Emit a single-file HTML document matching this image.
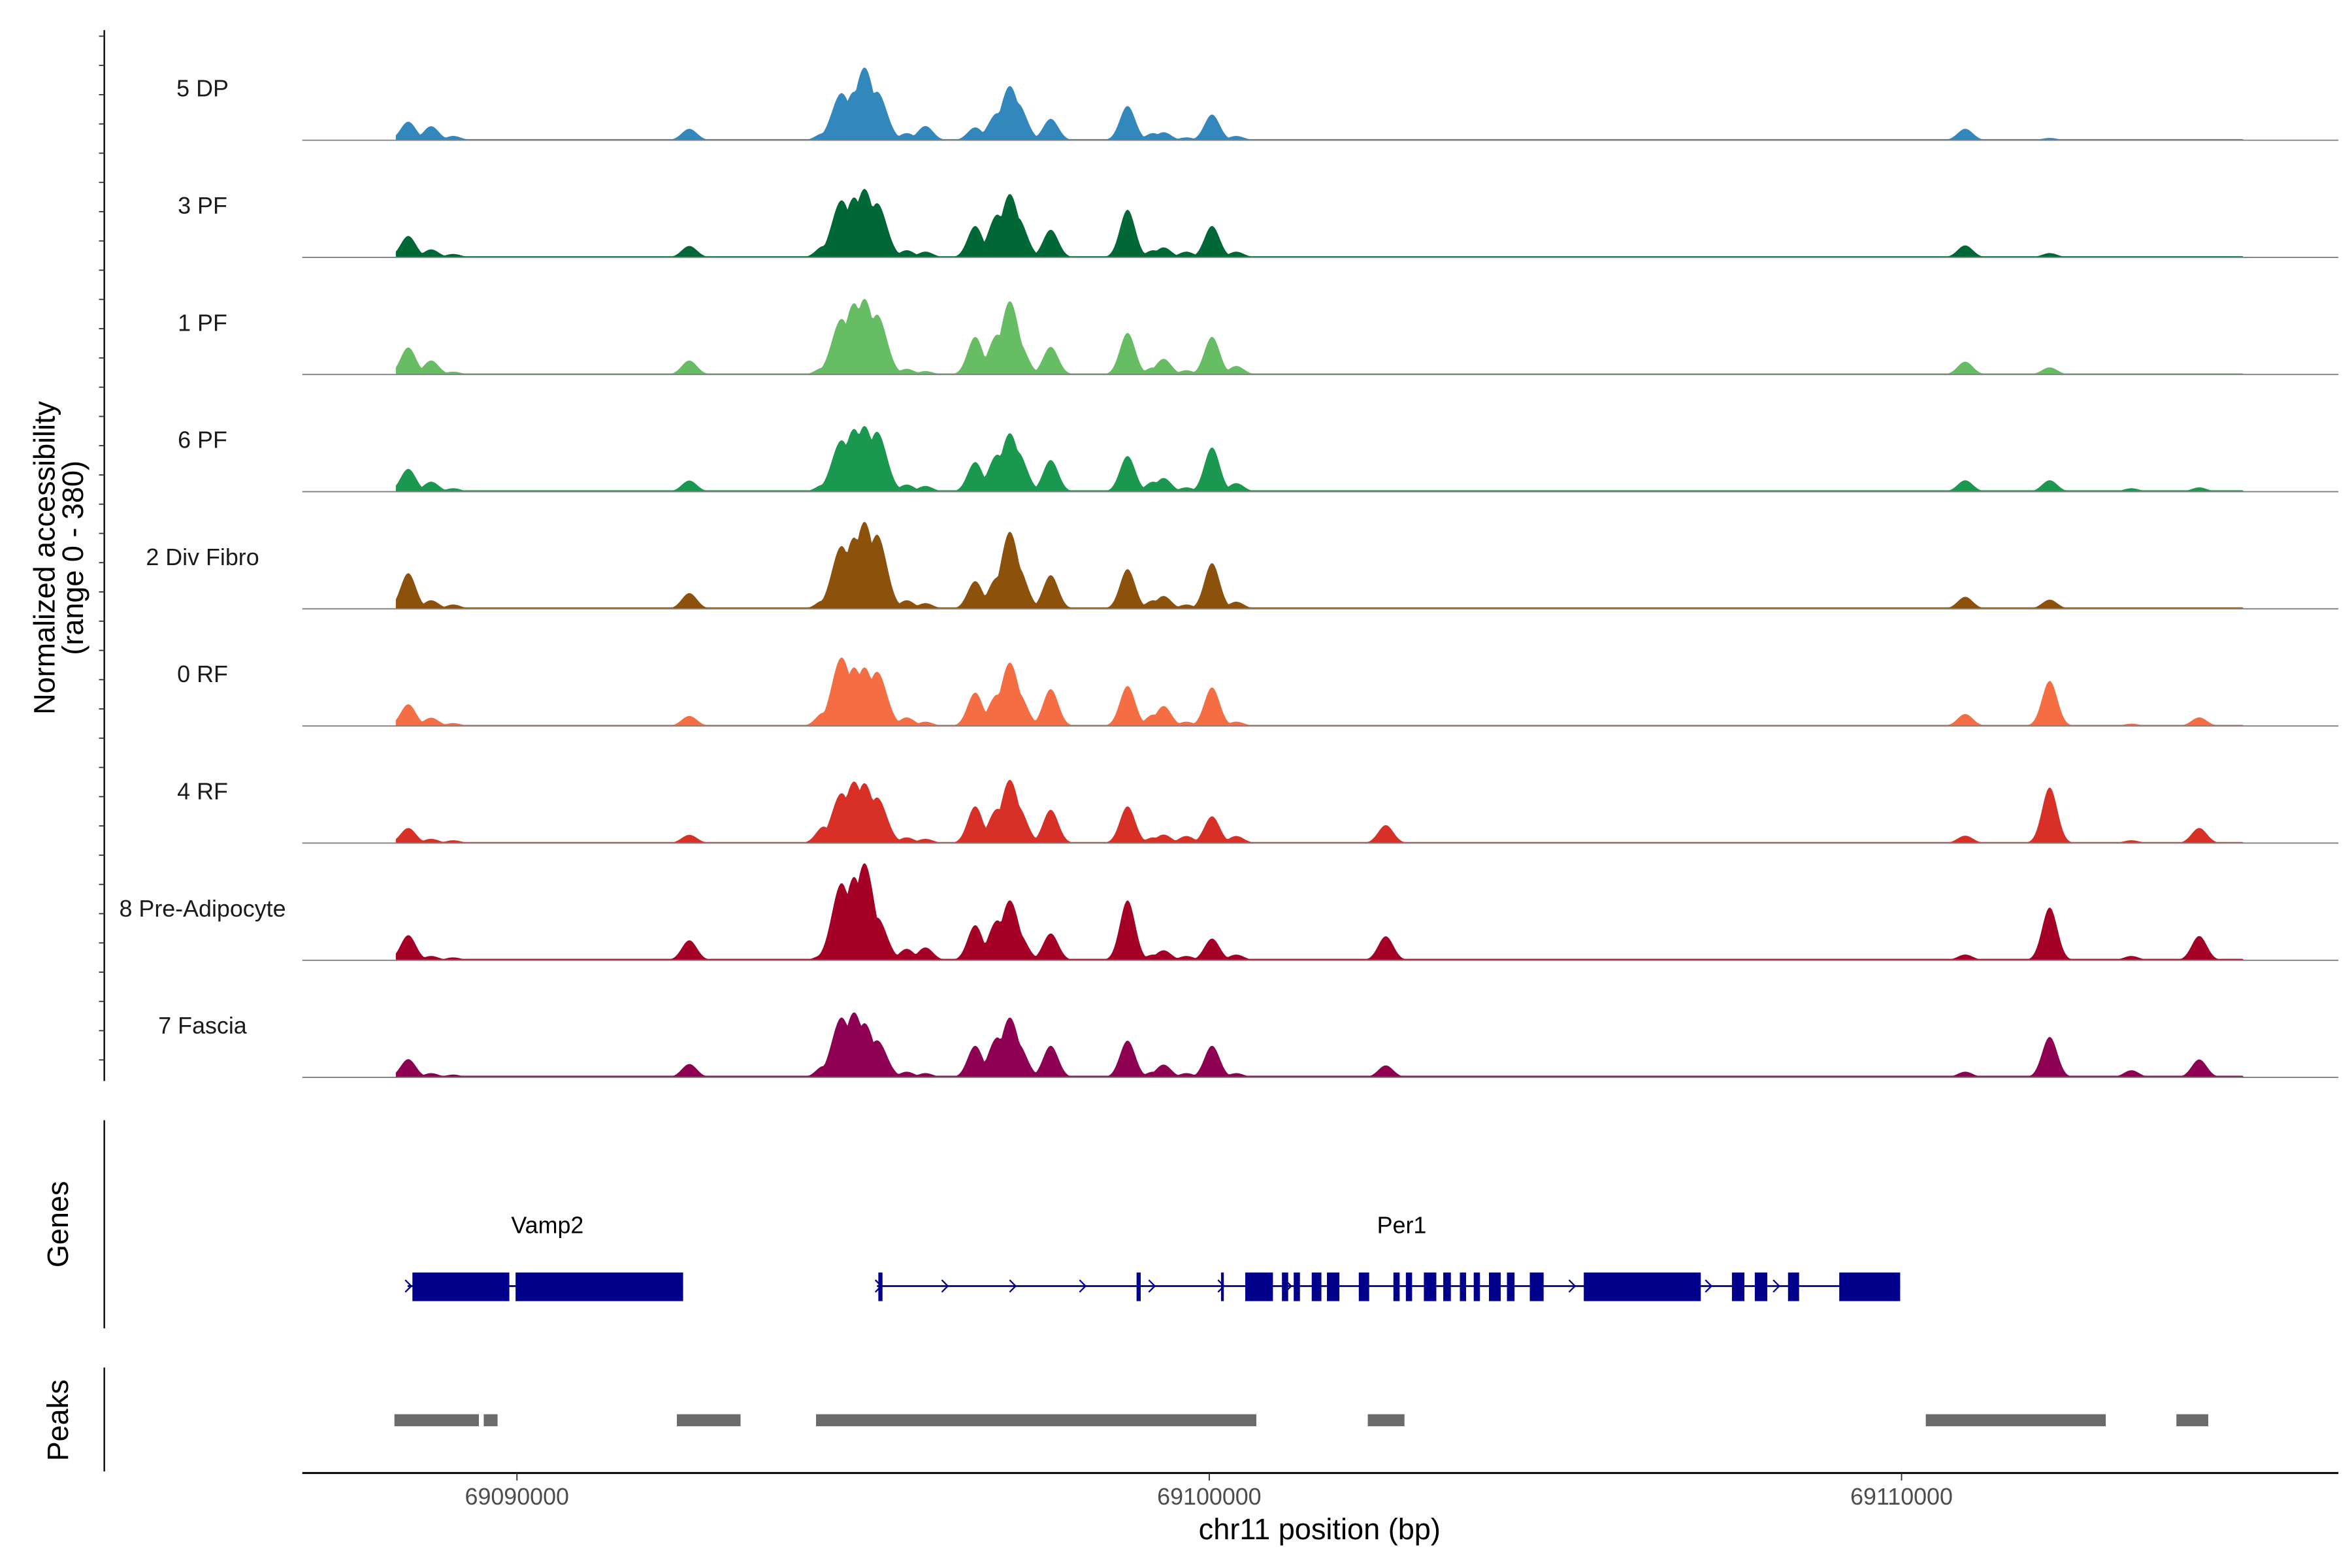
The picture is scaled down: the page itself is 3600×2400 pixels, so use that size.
<!DOCTYPE html>
<html><head><meta charset="utf-8"><style>
html,body{margin:0;padding:0;background:#fff;}
svg{display:block;font-family:"Liberation Sans",Arial,sans-serif;}
</style></head><body>
<svg id="chart" width="3600" height="2400" viewBox="0 0 1556 1040" preserveAspectRatio="none" xmlns="http://www.w3.org/2000/svg">
<g id="tracks"></g>
<g id="axes"></g>
<g id="genes"></g>
<g id="peaks"></g>
</svg>
<script>
// ---- data (positions in kb offset from chr11:69,000,000; heights on 0-380 scale) ----
const trackNames = ["5 DP","3 PF","1 PF","6 PF","2 Div Fibro","0 RF","4 RF","8 Pre-Adipocyte","7 Fascia"];
const trackColors = ["#3288bd","#006837","#66bd63","#1a9850","#8c510a","#f46d43","#d73027","#a50026","#8e0152"];
const peakPos = [88.43,88.76,89.08,92.49,94.43,94.69,94.87,95.02,95.20,95.63,95.90,96.62,96.94,97.12,97.23,97.71,98.82,99.19,99.34,99.67,100.04,100.39,102.55,110.92,112.14,113.32,114.30];
const h5DP   = [65,49,15,40,25,165,170,255,170,25,50,45,95,190,130,75,120,25,28,10,90,15,0,40,8,0,0];
const h3PF   = [75,28,12,40,40,200,210,240,190,25,20,110,150,222,140,97,167,25,35,20,110,20,0,42,15,0,0];
const h1PF   = [95,49,10,49,25,195,250,265,210,20,12,132,140,257,120,97,146,25,55,15,132,30,0,45,25,0,0];
const h6PF   = [80,35,12,39,25,180,220,230,210,25,20,104,130,205,140,111,125,35,48,15,155,30,0,40,40,12,15];
const hDiv   = [125,30,15,55,30,220,250,305,260,30,20,97,110,270,150,118,139,30,45,15,160,25,0,42,32,0,0];
const h0RF   = [76,29,10,35,47,240,205,205,190,30,15,117,110,222,120,129,140,40,70,15,135,15,0,42,158,8,30];
const h4RF   = [53,15,10,29,58,175,216,210,160,20,15,129,120,222,130,117,129,20,30,25,94,25,63,26,195,10,53];
const hPre   = [88,15,10,70,20,270,292,340,150,40,45,123,140,210,100,94,210,20,35,15,76,20,84,20,185,15,85];
const hFascia= [64,15,10,47,40,210,228,190,130,20,15,111,140,210,120,111,129,20,45,15,111,15,42,20,142,25,63];
const trackHeights = [h5DP,h3PF,h1PF,h6PF,hDiv,h0RF,h4RF,hPre,hFascia];
const background = [4,4,4,5,5,4,4,5,6];
const xTicks = [90,100,110];
const xTickLabels = ["69090000","69100000","69110000"];
const geneNames = ["Vamp2","Per1"];
const geneLabelPos = [90.44,102.78];
const vampExons = [[88.49,89.89],[89.98,92.40]];
const per1Span = [95.20,109.98];
const vampSpan = [88.42,92.40];
const per1Exons = [[95.22,95.28],[98.95,99.01],[100.17,100.21],[100.52,100.92],[101.05,101.14],[101.22,101.31],[101.48,101.62],[101.70,101.88],[102.16,102.31],[102.66,102.75],[102.84,102.93],[103.10,103.28],[103.38,103.49],[103.62,103.71],[103.82,103.91],[104.04,104.21],[104.30,104.41],[104.63,104.83],[105.41,107.10],[107.55,107.73],[107.88,108.06],[108.36,108.52],[109.10,109.98]];
const strandArrows = [88.43,95.22,96.18,97.16,98.17,99.17,100.17,101.14,102.23,105.24,107.21,108.19];
const peakRegions = [[88.23,89.45],[89.52,89.72],[92.31,93.23],[94.32,100.68],[102.29,102.82],[110.35,112.95],[113.97,114.43]];
const dataStart = 88.25, dataEnd = 114.95;

// ---- scales ----
const NS='http://www.w3.org/2000/svg';
const x = kb => 342 + (kb-90)*45.8;
const baselines = [93,170.7,248.4,326.1,403.8,481.5,559.2,636.9,714.6];
const yScale = v => v*72/380;
function mk(tag, attrs, parent){const e=document.createElementNS(NS,tag);for(const k in attrs)e.setAttribute(k,attrs[k]);parent.appendChild(e);return e;}

// ---- coverage tracks ----
const tg=document.getElementById('tracks');
trackNames.forEach((name,i)=>{
  const g=mk('g',{},tg);
  
  
  const b=baselines[i]; const hs=trackHeights[i];
  let d='M'+x(dataStart)+','+b;
  for(let kb=dataStart; kb<=dataEnd; kb+=0.025){
    let v=background[i];
    for(let p=0;p<peakPos.length;p++){
      const sig = (peakPos[p]>94.6&&peakPos[p]<95.3)?0.14:((peakPos[p]>96.9&&peakPos[p]<97.3)?0.13:0.11);
      const dd=(kb-peakPos[p])/sig;
      const val=hs[p]*Math.exp(-0.5*dd*dd);
      if(val>v)v=val;
    }
    d+='L'+x(kb).toFixed(2)+','+(b-yScale(v)).toFixed(2);
  }
  d+='L'+x(dataEnd)+','+b+'Z';
  const a=mk('path',{d:d,fill:trackColors[i],stroke:'none'},g);
  
  
  const l=mk('line',{x1:200,x2:1547,y1:b,y2:b,stroke:'#7f7f7f','stroke-width':0.8},g);
  
  
  const t=mk('text',{x:134,y:b-29,'text-anchor':'middle','font-size':15.5,fill:'#1a1a1a'},g);
  t.textContent=name;
  
  
});

// ---- axes ----
const ag=document.getElementById('axes');
let e=mk('line',{x1:69,x2:69,y1:20,y2:717,stroke:'#000','stroke-width':1},ag);


for(let y=24;y<=716;y+=19.4){
  const tk=mk('line',{x1:65.5,x2:69,y1:y,y2:y,stroke:'#333','stroke-width':0.8},ag);
  
  
}
e=mk('text',{transform:'translate(36,370) rotate(-90)','text-anchor':'middle','font-size':19.5,fill:'#000'},ag);
e.textContent='Normalized accessibility';


e=mk('text',{transform:'translate(55,370) rotate(-90)','text-anchor':'middle','font-size':19.5,fill:'#000'},ag);
e.textContent='(range 0 - 380)';


e=mk('line',{x1:69,x2:69,y1:743,y2:881,stroke:'#000','stroke-width':1},ag);


e=mk('text',{transform:'translate(45,812) rotate(-90)','text-anchor':'middle','font-size':19.5,fill:'#000'},ag);
e.textContent='Genes';


e=mk('line',{x1:69,x2:69,y1:907,y2:976,stroke:'#000','stroke-width':1},ag);


e=mk('text',{transform:'translate(45,942) rotate(-90)','text-anchor':'middle','font-size':19.5,fill:'#000'},ag);
e.textContent='Peaks';


e=mk('line',{x1:200,x2:1547,y1:977,y2:977,stroke:'#000','stroke-width':1.3},ag);


xTicks.forEach((kb,i)=>{
  const tk=mk('line',{x1:x(kb),x2:x(kb),y1:977,y2:982,stroke:'#333','stroke-width':0.8},ag);
  
  
  const tl=mk('text',{x:x(kb),y:998,'text-anchor':'middle','font-size':15.5,fill:'#4d4d4d'},ag);
  tl.textContent=xTickLabels[i];
  
  
});
e=mk('text',{x:873,y:1021,'text-anchor':'middle','font-size':19.5,fill:'#000'},ag);
e.textContent='chr11 position (bp)';



// ---- genes ----
const gg=document.getElementById('genes');
const gy=853, col='#00008b';
geneNames.forEach((n,i)=>{
  const t=mk('text',{x:x(geneLabelPos[i]),y:818,'text-anchor':'middle','font-size':15.5,fill:'#000'},gg);
  t.textContent=n;
  
  
});
e=mk('line',{x1:x(vampSpan[0]),x2:x(vampSpan[1]),y1:gy,y2:gy,stroke:col,'stroke-width':1.2},gg);


e=mk('line',{x1:x(per1Span[0]),x2:x(per1Span[1]),y1:gy,y2:gy,stroke:col,'stroke-width':1.2},gg);


vampExons.concat(per1Exons).forEach(ex=>{
  const w=Math.max(1,x(ex[1])-x(ex[0]));
  const r=mk('rect',{x:x(ex[0]),y:844,width:w,height:19,fill:col},gg);
  
  
});
strandArrows.forEach(kb=>{
  const ax=x(kb);
  const p=mk('path',{d:`M${ax-2},${gy-4} L${ax+2},${gy} L${ax-2},${gy+4}`,fill:'none',stroke:col,'stroke-width':1},gg);
  
  
});

// ---- peaks ----
const pg=document.getElementById('peaks');
peakRegions.forEach(r=>{
  const rc=mk('rect',{x:x(r[0]),y:938,width:x(r[1])-x(r[0]),height:8,fill:'#6b6b6b'},pg);
  
  
});
</script>
</body></html>
